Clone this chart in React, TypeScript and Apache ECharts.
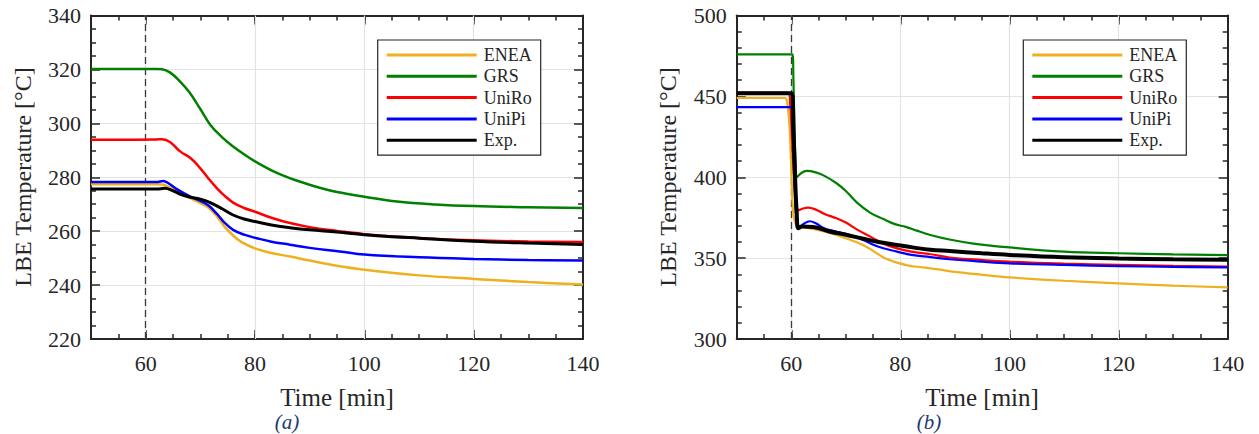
import React, { useEffect, useRef } from "react";
import * as echarts from "echarts";

const FONT = "Liberation Serif, Times New Roman, serif";
const TEXT_COLOR = "#262626";
const AXIS_COLOR = "#262626";
const GRID_COLOR = "#e3e3e3";

const SERIES_NAMES = ["ENEA", "GRS", "UniRo", "UniPi", "Exp."];
const SERIES_COLORS = ["#EDB120", "#008000", "#FF0000", "#0000FF", "#000000"];

const X_MIN = 50;
const X_MAX = 140;
const X_LABELS = [60, 80, 100, 120, 140];
const X_GRID = [60, 80, 100, 120];
const EVENT_TIME = 60;

const Y_MIN_A = 220;
const Y_MAX_A = 340;
const Y_STEP_A = 20;
const Y_MINOR_A = 4;

const Y_MIN_B = 300;
const Y_MAX_B = 500;
const Y_STEP_B = 50;
const Y_MINOR_B = 5;

const Y_TITLE = "LBE Temperature [°C]";
const X_TITLE = "Time [min]";
const PANEL_LABELS = ["(a)", "(b)"];

// ---------- panel (a) ----------
const ENEA_A: [number, number][] = [
  [50, 277.4], [62, 277.4], [63, 277.3], [64, 276.6], [66, 274.4], [68, 272.4], [70, 270.4],
  [71.5, 268.7], [73, 265.6], [74.5, 261.5], [76, 258.4], [77.5, 256], [80, 253.6], [83, 251.9],
  [86.4, 250.6], [90, 249.1], [95, 247.2], [100, 245.7], [110, 243.6], [120, 242.3], [130, 241.1], [140, 240.2],
];
const GRS_A: [number, number][] = [
  [50, 320.2], [62, 320.2], [63, 320.1], [64.5, 318.8], [66.3, 315.5], [68, 311.5], [70, 305.3],
  [71.8, 299.5], [74, 294.8], [76, 291.4], [78, 288.5], [80, 285.9], [84, 281.6], [88, 278.5],
  [92, 276], [95, 274.5], [100, 272.8], [106, 271], [113, 269.9], [120, 269.3], [130, 268.9], [140, 268.6],
];
const UNIRO_A: [number, number][] = [
  [50, 293.9], [62, 294], [63, 294.1], [64.5, 293], [66.3, 289.6], [68.4, 286.8], [70, 283.3],
  [71.5, 279.5], [73, 276], [74.5, 273], [76, 270.6], [78, 268.6], [80, 267.2], [83, 265],
  [86.4, 263], [90, 261.5], [95, 260.1], [100, 258.9], [110, 257.5], [120, 256.6], [130, 256.2], [140, 256],
];
const UNIPI_A: [number, number][] = [
  [50, 278.2], [62, 278.2], [63.2, 278.6], [64.3, 277.6], [65.7, 275.6], [68, 273], [70, 271.2],
  [71.5, 269.5], [73, 266.5], [74.5, 263], [76, 260.5], [78, 258.7], [80.3, 257.4], [83, 256.1],
  [86.4, 255], [90, 253.8], [95.5, 252.5], [100, 251.3], [110, 250.3], [120, 249.7], [130, 249.3], [140, 249.1],
];
const EXP_A: [number, number][] = [
  [50, 275.6], [62, 275.6], [63.5, 275.9], [65, 275], [66.5, 273.6], [68, 272.7], [70, 271.9],
  [71.8, 270.6], [74, 268.3], [76, 266], [78, 264.5], [80, 263.6], [83, 262.3], [86.4, 261.3],
  [90, 260.5], [95, 259.7], [100, 258.7], [110, 257.4], [120, 256.3], [130, 255.6], [140, 255.1],
];

// ---------- panel (b) ----------
const ENEA_B: [number, number][] = [
  [50, 449], [58.8, 449], [59.3, 445], [59.7, 430], [60, 405], [60.3, 381], [60.8, 371.5],
  [62, 369.5], [64, 368], [67, 365.5], [70, 362.3], [72, 359.8], [73.5, 357.5], [75, 354.5],
  [77, 350.3], [79.4, 347.2], [81.5, 345.4], [84, 344.3], [87, 343], [90, 341.5], [95, 339.7],
  [100, 338.1], [110, 336], [120, 334.4], [130, 333], [140, 331.9],
];
const GRS_B: [number, number][] = [
  [50, 476], [60.2, 476], [60.4, 460], [60.6, 430], [60.8, 408], [61, 400], [61.8, 402.5],
  [62.8, 403.9], [64.5, 403], [66, 401], [68.3, 396.3], [70, 391.5], [72, 384.5], [74.5, 378],
  [77, 374], [79, 371], [81, 369.3], [83, 367], [85.5, 364.3], [89, 361.5], [93.4, 359],
  [100, 356.6], [110, 354], [120, 353], [130, 352.3], [140, 351.9],
];
const UNIRO_B: [number, number][] = [
  [50, 452.4], [59.4, 452.4], [59.8, 445], [60.2, 420], [60.6, 395], [61, 382], [61.4, 379.6],
  [62, 380.5], [63.1, 381.2], [64.5, 380], [66, 377.5], [68.3, 374.6], [70, 372], [72, 367.8],
  [74.5, 363.3], [77, 358.8], [79.4, 356], [82, 354], [85.5, 352.4], [89, 350.4], [95, 348.8],
  [100, 347.8], [110, 346.6], [120, 345.8], [130, 345.2], [140, 344.8],
];
const UNIPI_B: [number, number][] = [
  [50, 443.3], [60, 443.3], [60.3, 425], [60.6, 395], [61, 372], [61.4, 368.8], [62.2, 371],
  [63.4, 372.8], [64.5, 371.5], [66, 368.5], [67.5, 367], [70, 365], [73, 361.5], [76, 357],
  [79.4, 354], [82, 352], [85.5, 350.6], [89, 349.3], [95, 347.8], [100, 346.8], [110, 345.8],
  [120, 345.1], [130, 344.6], [140, 344.3],
];
const EXP_B: [number, number][] = [
  [50, 452], [60.1, 452], [60.4, 430], [60.7, 400], [61, 378], [61.3, 368.5], [62, 369.5],
  [64, 369.3], [67, 366.5], [70, 364.5], [73.2, 362], [76, 360], [79.4, 358.1], [82.5, 356.5],
  [85.5, 355.2], [89, 354.4], [95, 353], [100, 352], [110, 350.6], [120, 349.8], [130, 349.3], [140, 349],
];

const PANEL_A = [ENEA_A, GRS_A, UNIRO_A, UNIPI_A, EXP_A];
const PANEL_B = [ENEA_B, GRS_B, UNIRO_B, UNIPI_B, EXP_B];

const GRIDS = [
  { left: 91, top: 15.5, width: 492, height: 323.5 },
  { left: 736.7, top: 15.5, width: 491, height: 323.5 },
];

function buildOption() {
  const axisLine = { show: true, onZero: false, lineStyle: { color: AXIS_COLOR, width: 2 } };
  const tickStyle = { color: AXIS_COLOR, width: 1.5 };
  const labelStyle = { fontFamily: FONT, fontSize: 22, color: TEXT_COLOR };

  const xAxis: any[] = [];
  const yAxis: any[] = [];
  const yDefs = [
    { min: Y_MIN_A, max: Y_MAX_A, step: Y_STEP_A, minor: Y_MINOR_A },
    { min: Y_MIN_B, max: Y_MAX_B, step: Y_STEP_B, minor: Y_MINOR_B },
  ];

  GRIDS.forEach((_, g) => {
    (["bottom", "top"] as const).forEach((pos) => {
      xAxis.push({
        type: "value", gridIndex: g, position: pos, min: X_MIN, max: X_MAX, interval: 5,
        axisLine,
        axisTick: { show: true, inside: true, length: 5, lineStyle: tickStyle },
        axisLabel: pos === "bottom"
          ? { show: true, margin: 13, ...labelStyle, formatter: (v: number) => (X_LABELS.indexOf(Math.round(v)) >= 0 ? String(Math.round(v)) : "") }
          : { show: false },
        splitLine: { show: false },
      });
      xAxis.push({
        type: "value", gridIndex: g, position: pos, min: X_MIN, max: X_MAX,
        axisLine: { show: false, onZero: false },
        axisTick: { show: true, inside: true, length: 9, customValues: X_LABELS, lineStyle: tickStyle },
        axisLabel: { show: false },
        splitLine: { show: false },
      });
    });
    const d = yDefs[g];
    (["left", "right"] as const).forEach((pos) => {
      yAxis.push({
        type: "value", gridIndex: g, position: pos, min: d.min, max: d.max, interval: d.step,
        axisLine,
        axisTick: { show: true, inside: true, length: 9, lineStyle: tickStyle },
        minorTick: { show: true, splitNumber: d.minor, length: 5, lineStyle: tickStyle },
        axisLabel: pos === "left" ? { show: true, margin: 10, ...labelStyle } : { show: false },
        splitLine: pos === "left" ? { show: true, lineStyle: { color: GRID_COLOR, width: 1.2 } } : { show: false },
        minorSplitLine: { show: false },
      });
    });
  });

  const series: any[] = [];
  [PANEL_A, PANEL_B].forEach((panel, g) => {
    panel.forEach((data, i) => {
      const isExp = i === 4;
      const width = g === 0 ? (isExp ? 3 : 2.5) : isExp ? 4 : 2.2;
      const s: any = {
        type: "line", name: SERIES_NAMES[i], data,
        xAxisIndex: g * 4, yAxisIndex: g * 2,
        showSymbol: false, symbol: "none", smooth: 0.4,
        color: SERIES_COLORS[i],
        lineStyle: { color: SERIES_COLORS[i], width },
        emphasis: { disabled: true }, silent: true, z: 2,
      };
      if (i === 0) {
        s.markLine = {
          silent: true, symbol: ["none", "none"], z: 1, animation: false,
          label: { show: false }, emphasis: { disabled: true },
          data: [
            ...X_GRID.map((x) => ({ xAxis: x, lineStyle: { color: GRID_COLOR, width: 1.2, type: "solid" } })),
            { xAxis: EVENT_TIME, lineStyle: { color: "#3a3a3a", width: 1.3, type: [7, 4] } },
          ],
        };
      }
      series.push(s);
    });
  });

  const legends = [GRIDS[0].left + 286.7, GRIDS[1].left + 286.6].map((left) => ({
    show: true, left, top: 40, orient: "vertical", data: SERIES_NAMES, icon: "rect",
    itemWidth: 90, itemHeight: 3, itemGap: 3.3, selectedMode: false,
    backgroundColor: "#ffffff", borderColor: AXIS_COLOR, borderWidth: 1.2, borderRadius: 0,
    padding: [6, 9, 6, 9],
    textStyle: { fontFamily: FONT, fontSize: 18, color: TEXT_COLOR, lineHeight: 18, padding: [0, 0, 0, 2] },
  }));

  const graphic: any[] = [];
  const yTitleX = [23, 668];
  const xTitleX = [337, 982];
  const panelLabelX = [287, 929];
  [0, 1].forEach((g) => {
    graphic.push({
      type: "text", x: yTitleX[g], y: 177, rotation: Math.PI / 2, silent: true,
      style: { text: Y_TITLE, fontFamily: FONT, fontSize: 24, fill: TEXT_COLOR, align: "center", verticalAlign: "middle" },
    });
    graphic.push({
      type: "text", x: xTitleX[g], y: 397, silent: true,
      style: { text: X_TITLE, fontFamily: FONT, fontSize: 25, fill: TEXT_COLOR, align: "center", verticalAlign: "middle" },
    });
    graphic.push({
      type: "text", x: panelLabelX[g], y: 422, silent: true,
      style: { text: PANEL_LABELS[g], fontFamily: FONT, fontSize: 21, fontStyle: "italic", fill: "#1f3a70", align: "center", verticalAlign: "middle" },
    });
  });

  return {
    animation: false,
    backgroundColor: "#ffffff",
    textStyle: { fontFamily: FONT },
    grid: GRIDS.map((g) => ({ ...g, containLabel: false })),
    xAxis, yAxis, series, legend: legends, graphic,
  };
}

export default function App() {
  const ref = useRef<HTMLDivElement | null>(null);
  useEffect(() => {
    document.body.style.margin = "0";
    if (!ref.current) return;
    const chart = echarts.init(ref.current, undefined, { renderer: "svg" });
    chart.setOption(buildOption() as any);
    return () => chart.dispose();
  }, []);
  return <div ref={ref} style={{ width: 1259, height: 434 }} />;
}
